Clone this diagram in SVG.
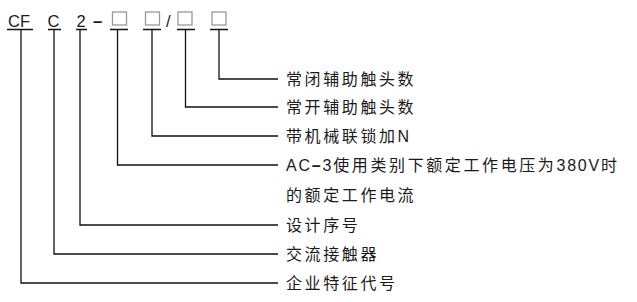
<svg xmlns="http://www.w3.org/2000/svg" width="637" height="302" viewBox="0 0 637 302">
<style>
text{font-family:"Liberation Sans","Noto Sans CJK SC",sans-serif;fill:#1a1a1a}
.code{font-size:16.5px}
.lbl{font-size:16px;letter-spacing:2.6px}
.lat{letter-spacing:1.8px}
.box{fill:none;stroke:#999;stroke-width:1.3}
.ln{fill:none;stroke:#111;stroke-width:1.3}
.dash{font-weight:bold}
</style>
<rect width="637" height="302" fill="#fff"/>
<g id="code">
<text class="code" x="8" y="26.5">CF</text>
<text class="code" x="47.5" y="26.5">C</text>
<text class="code" x="76.5" y="26.5">2</text>
<text class="code dash" x="93" y="26.5">–</text>
<rect class="box" x="112.5" y="12" width="14" height="13"/>
<rect class="box" x="145.5" y="12" width="14" height="13"/>
<text class="code" x="166" y="26.5">/</text>
<rect class="box" x="178" y="12" width="14" height="13"/>
<rect class="box" x="212" y="12" width="14" height="13"/>
</g>
<g id="connectors" class="ln">
<path d="M7 29.5H33M48 29.5H61M76 29.5H87M110 29.5H128M143 29.5H161M177 29.5H195M210 29.5H228"/>
<path d="M21 29.5V283H278"/>
<path d="M54 29.5V254H278"/>
<path d="M80 29.5V225H278"/>
<path d="M117.5 29.5V165H278"/>
<path d="M152 29.5V136H278"/>
<path d="M185.5 29.5V107H278"/>
<path d="M219 29.5V79H278"/>
</g>
<g id="n-nc"><text class="lbl" x="286" y="85">常闭辅助触头数</text></g>
<g id="n-no"><text class="lbl" x="286" y="113">常开辅助触头数</text></g>
<g id="n-mech"><text class="lbl" x="286" y="142">带机械联锁加N</text></g>
<g id="n-current"><text class="lbl" x="286" y="171"><tspan class="lat">AC</tspan><tspan class="dash lat">–</tspan><tspan class="lat">3</tspan>使用类别下额定工作电压为<tspan class="lat">380V</tspan>时</text>
<text class="lbl" x="286" y="201">的额定工作电流</text></g>
<g id="n-design"><text class="lbl" x="286" y="231">设计序号</text></g>
<g id="n-ac"><text class="lbl" x="286" y="260">交流接触器</text></g>
<g id="n-corp"><text class="lbl" x="286" y="289">企业特征代号</text></g>
</svg>
